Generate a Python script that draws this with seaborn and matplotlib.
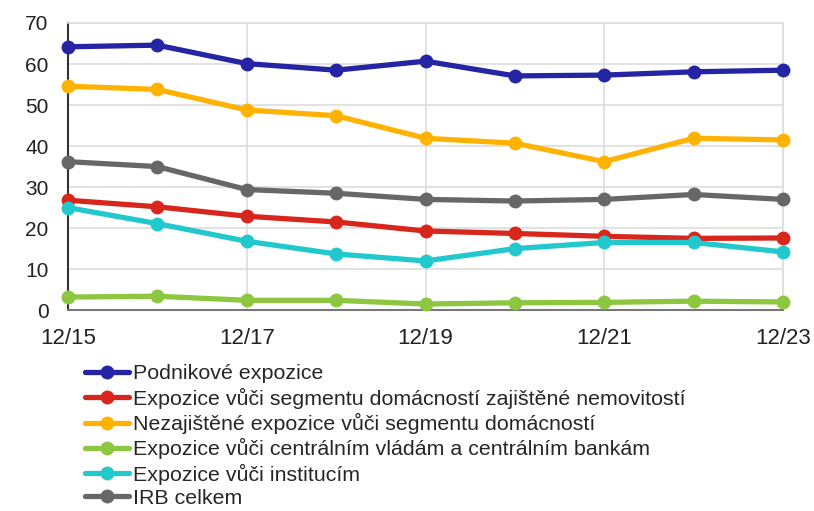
import pandas as pd
import numpy as np
import matplotlib
matplotlib.use("Agg")
import matplotlib.pyplot as plt
import seaborn as sns

periods = ["12/15", "12/16", "12/17", "12/18", "12/19", "12/20", "12/21", "12/22", "12/23"]
tick_labels = ["12/15", "12/17", "12/19", "12/21", "12/23"]

podnikove = [64.2, 64.6, 60.1, 58.5, 60.7, 57.1, 57.3, 58.1, 58.5]
zajistene_nemovitosti = [26.8, 25.2, 22.9, 21.5, 19.3, 18.7, 18.0, 17.5, 17.6]
nezajistene = [54.6, 53.8, 48.8, 47.4, 41.9, 40.7, 36.2, 41.9, 41.5]
centralni_vlady = [3.2, 3.4, 2.4, 2.4, 1.5, 1.8, 1.9, 2.2, 2.0]
instituce = [25.0, 21.1, 16.8, 13.7, 12.0, 15.0, 16.5, 16.5, 14.2]
irb_celkem = [36.2, 35.0, 29.4, 28.5, 27.0, 26.6, 27.0, 28.2, 27.0]

series = {
    "Podnikové expozice": podnikove,
    "Expozice vůči segmentu domácností zajištěné nemovitostí": zajistene_nemovitosti,
    "Nezajištěné expozice vůči segmentu domácností": nezajistene,
    "Expozice vůči centrálním vládám a centrálním bankám": centralni_vlady,
    "Expozice vůči institucím": instituce,
    "IRB celkem": irb_celkem,
}
colors = ["#2424A4", "#D9261C", "#FFB300", "#8DC63F", "#21C8CC", "#676767"]

rows = []
for name, vals in series.items():
    for i, v in enumerate(vals):
        rows.append({"x": i, "period": periods[i], "value": v, "serie": name})
df = pd.DataFrame(rows)

sns.set_style("white")
plt.rcParams["font.family"] = ["Liberation Sans", "DejaVu Sans"]

fig = plt.figure(figsize=(8.14, 5.11), dpi=100)
ax = fig.add_axes([0.0835, 0.393, 0.8785, 0.562])

sns.lineplot(data=df, x="x", y="value", hue="serie", palette=colors,
             marker="o", markersize=10, markeredgewidth=0, linewidth=3.8,
             ax=ax, clip_on=False, zorder=3)

ax.set_xlim(0, 8)
ax.set_ylim(0, 70)
ax.set_xticks([0, 2, 4, 6, 8])
ax.set_xticklabels(tick_labels)
ax.set_yticks(np.arange(0, 71, 10))
ax.set_xlabel("")
ax.set_ylabel("")
ax.tick_params(axis="x", labelsize=16, colors="#222222", length=0, pad=13)
ax.tick_params(axis="y", labelsize=15, colors="#222222", length=5,
               width=1.2, pad=9)
for t in ax.yaxis.get_ticklines():
    t.set_color("#555555")
ax.grid(True, color="#dddddd", linewidth=1.2)
for s in ["top", "right"]:
    ax.spines[s].set_color("#dddddd")
    ax.spines[s].set_linewidth(1.2)
ax.spines["left"].set_color("#333333")
ax.spines["left"].set_linewidth(1.5)
ax.spines["bottom"].set_color("#777777")
ax.spines["bottom"].set_linewidth(1.5)

handles, labels = ax.get_legend_handles_labels()
ax.legend(handles, labels, loc="upper left", bbox_to_anchor=(0.105, 0.287),
          bbox_transform=fig.transFigure, frameon=False, fontsize=15.4,
          handlelength=2.05, handletextpad=0.15, labelspacing=0.2,
          borderpad=0, borderaxespad=0)

plt.savefig("out.png", dpi=100)
